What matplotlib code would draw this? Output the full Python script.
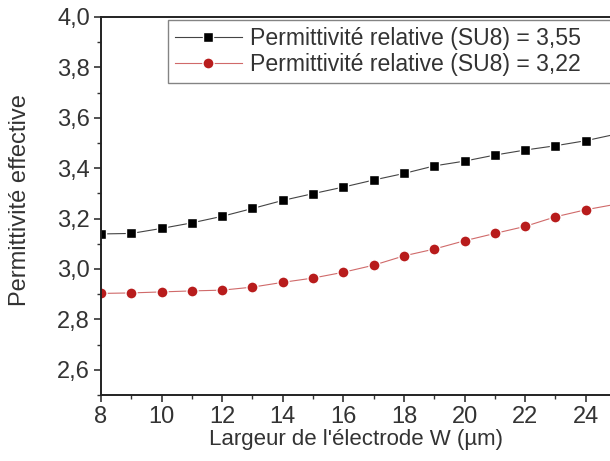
import matplotlib
matplotlib.use("Agg")
import matplotlib.pyplot as plt
from matplotlib import ticker

plt.rcParams['font.family'] = ['Liberation Sans', 'DejaVu Sans']

# data
largeur = [8, 9, 10, 11, 12, 13, 14, 15, 16, 17, 18, 19, 20, 21, 22, 23, 24, 25]
eps_355 = [3.139, 3.141, 3.161, 3.183, 3.209, 3.240, 3.272, 3.299, 3.325, 3.353,
           3.379, 3.409, 3.428, 3.452, 3.472, 3.489, 3.509, 3.535]
eps_322 = [2.903, 2.905, 2.909, 2.913, 2.916, 2.928, 2.947, 2.964, 2.987, 3.015,
           3.052, 3.079, 3.112, 3.141, 3.169, 3.207, 3.235, 3.257]
labels = ["Permittivité relative (SU8) = 3,55", "Permittivité relative (SU8) = 3,22"]

fig = plt.figure(figsize=(6.1, 4.61), dpi=100)
ax = fig.add_axes([0.1656, 0.1432, 0.8344, 0.82])

ax.plot(largeur, eps_355, color='#444444', lw=0.8, marker='s', ms=7,
        mfc='black', mec='white', mew=1.0, label=labels[0])
ax.plot(largeur, eps_322, color='#d06a6a', lw=0.8, marker='o', ms=8,
        mfc='#b81c1c', mec='white', mew=1.0, label=labels[1])

ax.set_xlim(8, 24.8)
ax.set_ylim(2.5, 4.0)
ax.xaxis.set_major_locator(ticker.MultipleLocator(2))
ax.xaxis.set_minor_locator(ticker.MultipleLocator(1))
ax.yaxis.set_major_locator(ticker.FixedLocator([2.6, 2.8, 3.0, 3.2, 3.4, 3.6, 3.8, 4.0]))
ax.yaxis.set_minor_locator(ticker.MultipleLocator(0.1))
ax.yaxis.set_major_formatter(ticker.FuncFormatter(lambda v, p: f"{v:.1f}".replace('.', ',')))
ax.xaxis.set_major_formatter(ticker.FuncFormatter(lambda v, p: f"{v:.0f}"))

ax.spines['right'].set_visible(False)
for s in ['left', 'bottom', 'top']:
    ax.spines[s].set_linewidth(1.4)
    ax.spines[s].set_color('#222222')
ax.tick_params(which='major', direction='out', length=5, width=1.2, labelsize=17,
               colors='#333333', pad=3)
ax.tick_params(which='minor', direction='out', length=3, width=1.0, colors='#333333')
ax.tick_params(top=False, right=False)

ax.set_xlabel("Largeur de l'électrode W (µm)", fontsize=16, color='#333333', labelpad=1)
ax.set_ylabel("Permittivité effective", fontsize=17, color='#333333')
ax.yaxis.set_label_coords(-0.138, 0.516)

# frame runs past the right edge like in the reference (mode expand)
leg = ax.legend(loc='upper left', bbox_to_anchor=(0.1316, 0.0, 1.0, 0.992), mode='expand',
                fontsize=16.6, frameon=True, fancybox=False, borderpad=0.3,
                handlelength=2.9, handletextpad=0.35, labelspacing=0.12, borderaxespad=0)
leg.get_frame().set_edgecolor('#666666')
leg.get_frame().set_linewidth(1.0)
for t in leg.get_texts():
    t.set_color('#333333')

fig.savefig("out.png", dpi=100)
